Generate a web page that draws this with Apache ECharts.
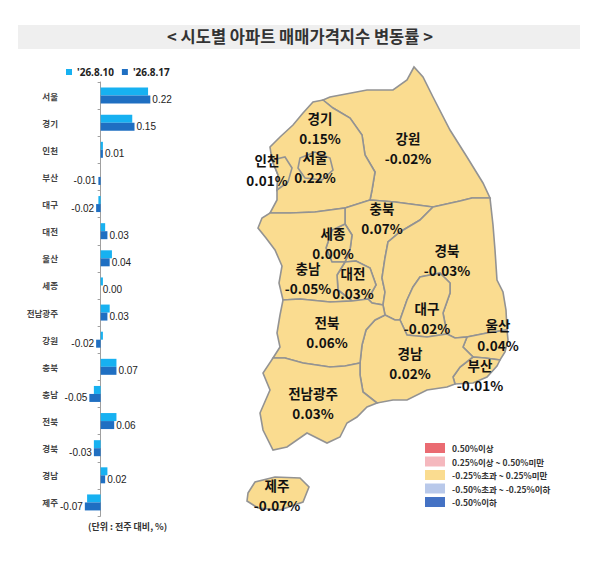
<!DOCTYPE html>
<html>
<head>
<meta charset="utf-8">
<script src="https://cdn.jsdelivr.net/npm/echarts@6/dist/echarts.min.js"></script>
<style>
  html, body { margin: 0; padding: 0; background: #fff; }
  #main { width: 600px; height: 561px; }
</style>
</head>
<body>
<div id="main"></div>
<script>
// 시도별 아파트 매매가격지수 변동률 (%)
const regions = ['서울', '경기', '인천', '부산', '대구', '대전', '울산', '세종', '전남광주', '강원', '충북', '충남', '전북', '경북', '경남', '제주'];
const weekNames = ["'26.8.10", "'26.8.17"];
const prevWeek = [0.21, 0.14, 0.01, 0.00, -0.01, 0.02, 0.05, 0.01, 0.04, 0.01, 0.07, -0.03, 0.07, -0.03, 0.03, -0.06];
const thisWeek = [0.22, 0.15, 0.01, -0.01, -0.02, 0.03, 0.04, 0.00, 0.03, -0.02, 0.07, -0.05, 0.06, -0.03, 0.02, -0.07];

// 지도 범례 구간
const pieceLabels = ['0.50%이상', '0.25%이상 ~ 0.50%미만', '-0.25%초과 ~ 0.25%미만', '-0.50%초과 ~ -0.25%이하', '-0.50%이하'];
const pieceColors = ['#ea6b72', '#f5b8be', '#fadc90', '#b9c9ea', '#4472c4'];

// 간단한 지도 윤곽 (화면 좌표), labelPos = 라벨 위치
const outlines = {
  '강원': [[323,100],[330,97],[367,90],[393,90],[407,80],[414,67],[423,77],[433,97],[450,130],[467,157],[483,183],[490,198],[472,198],[460,201],[433,207],[395,202],[370,200],[372,190],[375,172],[365,155],[362,135],[350,118],[333,108]],
  '경기': [[323,100],[333,108],[350,118],[362,135],[365,155],[375,172],[372,190],[370,200],[345,208],[315,212],[290,213],[270,213],[277,200],[277,190],[278,175],[272,160],[270,147],[280,137],[293,125],[303,113],[313,102]],
  '서울': [[300,158],[315,152],[330,158],[333,170],[322,180],[305,178],[298,168]],
  '인천': [[272,160],[285,157],[292,168],[288,182],[277,190],[278,175]],
  '충북': [[345,208],[370,200],[395,202],[433,207],[420,220],[400,232],[388,242],[385,258],[382,278],[385,292],[383,305],[372,303],[368,299],[376,285],[370,268],[356,261],[345,262],[350,250],[352,235],[345,224]],
  '세종': [[345,224],[352,235],[350,250],[345,262],[332,262],[326,248],[332,230]],
  '대전': [[345,262],[356,261],[370,268],[376,285],[368,299],[352,301],[338,290],[337,275]],
  '충남': [[270,213],[290,213],[315,212],[345,208],[345,224],[332,230],[326,248],[332,262],[345,262],[337,275],[338,290],[352,301],[330,302],[300,299],[283,300],[279,283],[282,266],[275,250],[266,238],[258,228],[262,218]],
  '경북': [[433,207],[460,201],[472,198],[490,198],[493,225],[495,250],[497,280],[503,292],[506,310],[507,330],[487,333],[467,337],[455,338],[447,334],[443,313],[450,293],[450,283],[440,273],[420,277],[413,287],[407,300],[400,320],[395,320],[385,315],[383,305],[385,292],[382,278],[385,258],[388,242],[400,232],[420,220]],
  '대구': [[413,287],[420,277],[440,273],[450,283],[450,293],[443,313],[447,334],[427,337],[407,335],[400,320],[407,300]],
  '울산': [[507,330],[508,340],[505,352],[500,360],[485,358],[473,357],[463,347],[467,337],[487,333]],
  '부산': [[500,360],[497,366],[487,377],[473,383],[455,384],[453,377],[460,367],[473,357],[485,358]],
  '경남': [[385,315],[395,320],[400,320],[407,335],[427,337],[447,334],[455,338],[467,337],[463,347],[473,357],[460,367],[453,377],[455,384],[447,387],[427,390],[407,400],[393,400],[377,403],[363,392],[360,375],[360,363],[362,345],[366,330],[375,320]],
  '전북': [[283,300],[300,299],[330,302],[352,301],[368,299],[372,303],[383,305],[385,315],[375,320],[366,330],[362,345],[360,363],[345,366],[330,367],[303,363],[285,358],[273,358],[280,347],[277,333],[280,315]],
  '전남광주': [[273,358],[285,358],[303,363],[330,367],[345,366],[360,363],[360,375],[363,392],[377,403],[367,407],[357,417],[347,423],[340,437],[327,443],[307,433],[287,447],[273,450],[263,430],[260,413],[270,390],[263,373]],
  '제주': [[248,493],[255,482],[275,477],[300,478],[309,487],[303,502],[280,510],[258,508],[247,501]]
};
const labelPos = {
  '경기': [320,128], '서울': [315,167], '인천': [267,170], '강원': [408,148],
  '충북': [382,218], '세종': [333,243], '충남': [308,278], '대전': [353,283],
  '경북': [447,260], '대구': [427,318], '울산': [498,335], '전북': [327,332],
  '경남': [410,363], '부산': [480,375], '전남광주': [313,403], '제주': [277,495]
};

const features = Object.keys(outlines).map(function (name) {
  const ring = outlines[name].concat([outlines[name][0]]);
  return {
    type: 'Feature',
    properties: { name: name, cp: labelPos[name] },
    geometry: { type: 'Polygon', coordinates: [ring] }
  };
});
echarts.registerMap('korea', { type: 'FeatureCollection', features: features });

let minX = Infinity, minY = Infinity, maxX = -Infinity, maxY = -Infinity;
Object.values(outlines).forEach(function (pts) {
  pts.forEach(function (p) {
    minX = Math.min(minX, p[0]); maxX = Math.max(maxX, p[0]);
    minY = Math.min(minY, p[1]); maxY = Math.max(maxY, p[1]);
  });
});

const chart = echarts.init(document.getElementById('main'), null, { renderer: 'svg' });

const option = {
  backgroundColor: '#fff',
  animation: false,
  title: [{
    text: '< 시도별 아파트 매매가격지수 변동률 >',
    left: 'center',
    top: 28,
    padding: 0,
    textStyle: { fontSize: 16.5, fontWeight: 'bold', color: '#333', fontFamily: 'Noto Sans CJK KR' }
  }, {
    text: '(단위 : 전주 대비, %)',
    left: 88,
    top: 522,
    padding: 0,
    textStyle: { fontSize: 9, fontWeight: 'bold', color: '#333', fontFamily: 'Noto Sans CJK KR' }
  }],
  graphic: [{
    type: 'rect',
    z: -1,
    shape: { x: 18, y: 25, width: 562, height: 24 },
    style: { fill: '#efefef' }
  }],
  legend: {
    left: 61,
    top: 62,
    itemWidth: 6,
    itemHeight: 6,
    itemGap: 8,
    icon: 'rect',
    data: weekNames,
    textStyle: { fontSize: 10, fontWeight: 'bold', color: '#222', fontFamily: 'Noto Sans' }
  },
  grid: { left: 60, top: 82, width: 140, height: 434 },
  xAxis: { type: 'value', min: -0.18, max: 0.44, show: false },
  yAxis: [{
    type: 'category',
    data: regions,
    inverse: true,
    axisLine: { show: true, onZero: true, lineStyle: { color: '#a0a0a0', width: 1 } },
    axisTick: { show: true, length: 3, lineStyle: { color: '#a0a0a0' } },
    axisLabel: { show: false }
  }, {
    type: 'category',
    data: regions,
    inverse: true,
    position: 'left',
    axisLine: { show: false, onZero: false },
    axisTick: { show: false },
    axisLabel: { margin: 2, fontSize: 8.5, fontWeight: 'bold', color: '#444', fontFamily: 'Noto Sans CJK KR' }
  }],
  visualMap: {
    type: 'piecewise',
    seriesIndex: 2,
    left: 410,
    top: 428,
    align: 'left',
    itemWidth: 20,
    itemHeight: 10,
    itemGap: 3.5,
    itemSymbol: 'rect',
    textGap: 7,
    selectedMode: false,
    hoverLink: false,
    textStyle: { fontSize: 8.5, fontWeight: 'bold', color: '#333', fontFamily: 'Noto Sans CJK KR' },
    pieces: [
      { gte: 0.5, label: pieceLabels[0], color: pieceColors[0] },
      { gte: 0.25, lt: 0.5, label: pieceLabels[1], color: pieceColors[1] },
      { gt: -0.25, lt: 0.25, label: pieceLabels[2], color: pieceColors[2] },
      { gt: -0.5, lte: -0.25, label: pieceLabels[3], color: pieceColors[3] },
      { lte: -0.5, label: pieceLabels[4], color: pieceColors[4] }
    ]
  },
  series: [{
    type: 'bar',
    name: weekNames[0],
    data: prevWeek,
    barWidth: 8,
    barGap: '0%',
    itemStyle: { color: '#17b1f1' }
  }, {
    type: 'bar',
    name: weekNames[1],
    data: thisWeek.map(function (v) {
      return { value: v, label: { position: v < 0 ? 'left' : 'right' } };
    }),
    barWidth: 8,
    barGap: '0%',
    itemStyle: { color: '#1f6fc2' },
    label: {
      show: true,
      distance: 2,
      formatter: function (p) { return p.value.toFixed(2); },
      fontSize: 10,
      color: '#222',
      fontFamily: '"Liberation Sans Narrow", "Arial Narrow", "Liberation Sans", sans-serif'
    }
  }, {
    type: 'map',
    map: 'korea',
    projection: {
      project: function (p) { return [p[0], p[1]]; },
      unproject: function (p) { return [p[0], p[1]]; }
    },
    left: minX,
    top: minY,
    width: maxX - minX,
    height: maxY - minY,
    roam: false,
    selectedMode: false,
    silent: true,
    showLegendSymbol: false,
    itemStyle: { borderColor: '#939393', borderWidth: 1.6, areaColor: pieceColors[2] },
    label: {
      show: true,
      formatter: function (p) { return p.name + '\n' + p.value.toFixed(2) + '%'; },
      fontSize: 13.5,
      lineHeight: 20,
      fontWeight: 'bold',
      color: '#111',
      fontFamily: 'Noto Sans CJK KR'
    },
    emphasis: { disabled: true },
    data: regions.map(function (r, i) { return { name: r, value: thisWeek[i] }; })
  }]
};

chart.setOption(option);
</script>
</body>
</html>
